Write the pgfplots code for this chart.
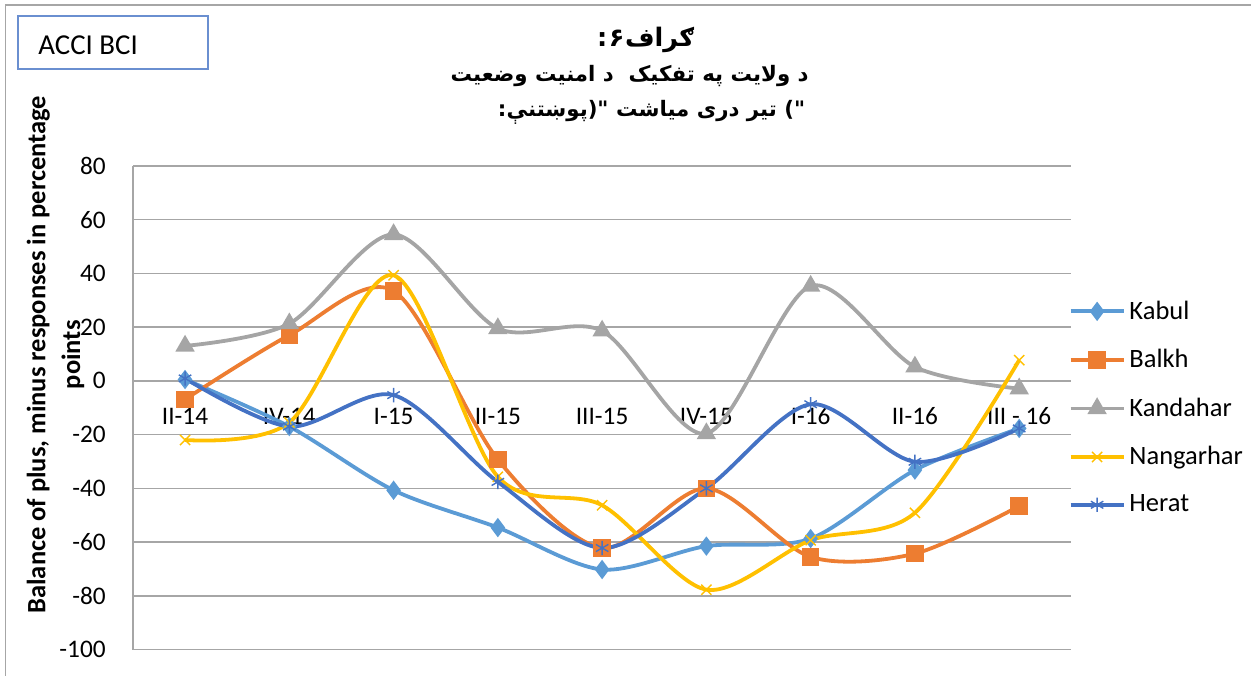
\documentclass[border=0pt]{standalone}
\usepackage{fontspec}
\setmainfont{Carlito}
\newfontfamily\arabicfont[Script=Arabic]{DejaVu Sans}
\usepackage{pgfplots}
\pgfplotsset{compat=1.18}
\definecolor{cKabul}{HTML}{5B9BD5}
\definecolor{cBalkh}{HTML}{ED7D31}
\definecolor{cKandahar}{HTML}{A5A5A5}
\definecolor{cNangarhar}{HTML}{FFC000}
\definecolor{cHerat}{HTML}{4472C4}
\definecolor{gridc}{HTML}{A6A6A6}
\definecolor{boxblue}{HTML}{6A8FD0}
\newcommand{\RTL}[1]{{\TeXXeTstate=1 \beginR #1\endR}}
\begin{document}
\begin{tikzpicture}
\path (0bp,0bp) rectangle (626bp,338bp);
\draw[gridc, line width=0.8bp] (2.75bp,0bp) -- (2.75bp,335.5bp) -- (626bp,335.5bp);
% ACCI BCI box
\draw[boxblue, line width=0.8bp] (9bp,303.5bp) rectangle (104bp,330bp);
\node[anchor=base west, inner sep=0pt, font=\fontsize{14.5}{17}\selectfont] at (19bp,310.5bp) {ACCI BCI};
% title
\node[font=\arabicfont\bfseries\fontsize{12.8}{14}\selectfont, inner sep=0pt] at (323bp,318bp) {\RTL{ګراف\kern0.3bp\hbox{۶}\kern0.8bp\hbox{:}}};
\node[font=\arabicfont\bfseries\fontsize{10.7}{13}\selectfont, inner sep=0pt] at (315bp,300bp) {\RTL{د ولایت په تفکیک\ \ د امنیت وضعیت}};
\node[font=\arabicfont\bfseries\fontsize{10.7}{13}\selectfont, inner sep=0pt] at (326bp,282bp) {\RTL{\hbox{"}\hbox{)} تیر دری میاشت \hbox{"}\hbox{(}پوښتنې\hbox{:}}};
% y label
\node[rotate=90, align=center, inner sep=0pt, font=\bfseries\fontsize{13.3}{17.5}\selectfont] at (27.75bp,160.5bp) {Balance of plus, minus responses in percentage\\points};
\begin{axis}[
  at={(66.5bp,13bp)}, anchor=south west,
  scale only axis, width=469.5bp, height=242bp,
  set layers,
  xmin=-0.5, xmax=8.5, ymin=-100, ymax=80,
  axis x line=middle, axis y line=left,
  axis line style={-, draw=gridc, line width=0.8bp},
  xtick={0,1,2,3,4,5,6,7,8},
  xticklabels={II-14,IV-14,I-15,II-15,III-15,IV-15,I-16,II-16,III - 16},
  ytick={-100,-80,-60,-40,-20,0,20,40,60,80},
  yticklabels={-100,-80,-60,-40,-20,0,20,40,60,80},
  tick style={draw=none},
  ymajorgrids, grid style={draw=gridc, line width=0.8bp},
  ticklabel style={font=\fontsize{12.7}{15}\selectfont},
  xticklabel style={anchor=base, yshift=-19.5bp},
  yticklabel style={anchor=east, xshift=-8bp},
  legend style={draw=none, fill=none, at={(1,0.5)}, anchor=west, xshift=-1.5bp,
    font=\fontsize{13.3}{15}\selectfont, row sep=9.6bp, inner sep=0pt},
  legend cell align=left,
  legend image code/.code={\draw[mark repeat=2,mark phase=2] plot coordinates {(0bp,0bp)(13.25bp,0bp)(26.5bp,0bp)};},
  every axis plot/.append style={line width=1.9bp},
]
\addplot[cKabul, smooth, mark=diamond*, mark size=3.3bp, mark options={solid}] coordinates {
(0,0.5)(1,-17)(2,-40.7)(3,-54.6)(4,-70.2)(5,-61.5)(6,-58.7)(7,-33.2)(8,-17.7)};
\addlegendentry{Kabul}
\addplot[cBalkh, smooth, mark=square*, mark size=3.4bp, mark options={solid}] coordinates {
(0,-6.9)(1,17)(2,33.5)(3,-29.3)(4,-62.2)(5,-40)(6,-65.5)(7,-64.3)(8,-46.6)};
\addlegendentry{Balkh}
\addplot[cKandahar, smooth, mark=triangle*, mark size=3.7bp, mark options={solid}] coordinates {
(0,13)(1,21.3)(2,54.5)(3,19.5)(4,18.6)(5,-19.6)(6,35.3)(7,5.2)(8,-2.9)};
\addlegendentry{Kandahar}
\addplot[cNangarhar, smooth, mark=x, mark size=3.6bp, mark options={solid, line width=0.7bp}] coordinates {
(0,-22)(1,-15.5)(2,39.3)(3,-35.7)(4,-46.3)(5,-77.7)(6,-59.3)(7,-49.1)(8,7.7)};
\addlegendentry{Nangarhar}
\addplot[cHerat, smooth, mark=asterisk, mark size=3.6bp, mark options={solid, line width=0.7bp}] coordinates {
(0,0.9)(1,-17)(2,-5.3)(3,-37.6)(4,-62.2)(5,-40)(6,-8.7)(7,-30.1)(8,-17.7)};
\addlegendentry{Herat}
\end{axis}
\end{tikzpicture}
\end{document}
